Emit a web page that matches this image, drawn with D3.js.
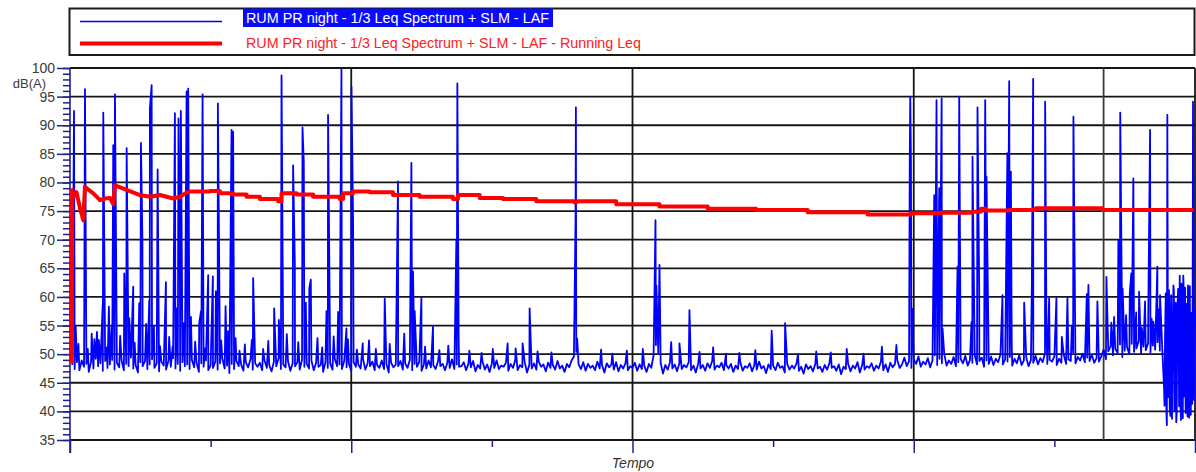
<!DOCTYPE html>
<html>
<head>
<meta charset="utf-8">
<script src="https://cdn.jsdelivr.net/npm/d3@7"></script>
<style>
  body { margin: 0; background: #fff; }
  svg { display: block; }
  text { font-family: "Liberation Sans", Arial, sans-serif; }
</style>
</head>
<body>
<svg id="chart" width="1196" height="472"></svg>
<script>
// ---- data -------------------------------------------------------------
const seriesNames = [
  "RUM PR night - 1/3 Leq Spectrum + SLM - LAF",
  "RUM PR night - 1/3 Leq Spectrum + SLM - LAF - Running Leq"
];

// LAF floor level, one reading per minute (minute 1 .. 480), dB(A)
const floorDb = [
  48.1, 47.4, 48.6, 47.2, 48.9, 47.8, 48.3, 46.9, 48.7, 47.5, 49.2, 47.9, 48.4, 47.1, 48.8, 47.6, 48.2, 49.0, 47.3, 48.5,
  47.7, 48.9, 47.2, 48.3, 47.9, 49.4, 47.5, 48.1, 46.8, 48.6, 47.9, 48.8, 47.4, 48.2, 49.1, 47.6, 48.4, 47.0, 48.7, 48.0,
  47.3, 48.9, 47.8, 49.3, 47.5, 48.3, 47.1, 48.6, 47.9, 48.2, 47.4, 49.0, 47.7, 48.5, 46.9, 48.4, 47.8, 48.9, 47.2, 48.1,
  47.6, 48.7, 47.3, 48.4, 49.2, 47.5, 48.0, 46.7, 48.3, 47.4, 48.8, 47.9, 48.2, 47.1, 48.6, 47.7, 49.1, 47.3, 48.4, 47.8,
  48.5, 47.2, 48.9, 47.6, 48.1, 47.0, 48.7, 47.9, 49.3, 47.4, 48.2, 47.7, 48.8, 47.1, 48.4, 47.9, 48.6, 47.3, 49.0, 47.8,
  48.3, 47.5, 48.9, 47.2, 48.5, 47.8, 48.1, 46.9, 48.6, 47.6, 48.4, 47.3, 49.1, 47.9, 48.2, 47.4, 48.8, 47.7, 48.3, 47.1,
  48.6, 47.8, 48.2, 47.5, 49.2, 47.3, 48.4, 47.9, 48.7, 47.2, 48.1, 47.6, 48.9, 47.4, 48.3, 46.8, 48.5, 47.7, 48.2, 47.9,
  48.8, 47.3, 48.4, 47.6, 49.0, 47.2, 48.3, 47.8, 48.6, 47.1, 48.2, 47.5, 48.9, 47.7, 48.1, 47.4, 48.7, 47.9, 48.3, 47.2,
  48.5, 47.6, 49.1, 47.4, 48.2, 47.8, 47.9, 48.6, 47.2, 48.3, 47.7, 48.8, 47.0, 48.1, 47.5, 48.7, 47.3, 48.2, 46.9, 48.4,
  47.6, 48.9, 47.4, 48.0, 47.8, 48.5, 47.1, 48.3, 47.6, 49.0, 47.2, 48.1, 47.7, 48.6, 46.8, 48.2, 47.5, 48.4, 47.3, 48.7,
  47.8, 48.2, 47.0, 48.5, 47.6, 48.1, 47.3, 48.8, 47.5, 48.0, 46.9, 48.3, 47.7, 48.9, 49.6, 50.4, 48.2, 47.4, 48.6, 47.1,
  48.3, 47.6, 48.0, 47.2, 48.7, 47.5, 48.1, 46.8, 48.4, 47.7, 48.2, 47.3, 48.6, 47.0, 48.1, 47.5, 48.4, 47.2, 47.9, 47.6,
  48.5, 47.1, 48.2, 47.4, 48.0, 46.9, 48.3, 47.6, 49.8, 51.6, 50.2, 48.5, 46.6, 48.1, 47.3, 48.6, 47.5, 48.2, 47.0, 48.4,
  47.4, 48.1, 47.7, 48.6, 47.2, 48.0, 46.8, 48.3, 47.5, 48.1, 47.1, 48.4, 47.6, 48.8, 47.3, 48.0, 47.7, 48.5, 47.2, 48.1,
  47.5, 48.3, 46.9, 48.0, 47.4, 48.6, 47.1, 47.9, 47.6, 48.4, 47.0, 48.1, 47.3, 48.7, 47.5, 47.9, 46.7, 48.2, 47.4, 48.0,
  47.2, 48.5, 47.6, 47.9, 46.8, 48.3, 47.3, 48.0, 47.5, 48.4, 47.1, 47.8, 46.6, 48.2, 47.4, 47.9, 47.0, 48.3, 47.5, 47.8,
  46.9, 48.1, 47.3, 48.4, 47.6, 47.9, 47.1, 48.2, 46.5, 47.8, 47.4, 48.3, 47.0, 48.0, 47.5, 48.6, 46.8, 48.1, 47.3, 47.9,
  47.6, 48.4, 47.1, 48.0, 47.5, 48.7, 47.2, 48.2, 46.9, 48.5, 47.7, 48.3, 48.9, 47.6, 48.2, 49.4, 47.9, 48.8, 47.6, 49.1,
  48.3, 49.6, 47.8, 48.7, 48.2, 49.3, 47.7, 48.9, 49.8, 48.1, 49.2, 48.4, 50.1, 48.0, 48.9, 48.3, 49.5, 47.9, 48.6, 49.2,
  48.4, 49.7, 48.0, 49.0, 48.5, 49.9, 48.2, 48.8, 49.4, 47.8, 48.9, 48.3, 49.6, 48.1, 49.2, 48.6, 50.0, 48.2, 49.1, 48.7,
  49.5, 48.0, 49.2, 48.4, 49.8, 48.1, 48.9, 49.4, 47.9, 49.0, 48.5, 49.7, 48.2, 49.3, 48.6, 50.2, 48.3, 49.0, 48.7, 49.6,
  48.1, 49.2, 48.5, 49.9, 48.3, 49.1, 48.8, 50.3, 48.4, 49.5, 48.9, 50.1, 48.6, 49.4, 48.8, 49.9, 48.5, 49.3, 48.7, 49.6,
  50.8, 49.1, 50.5, 51.4, 49.8, 50.9, 50.2, 51.7, 49.5, 50.6, 51.2, 50.0, 51.8, 50.4, 51.0, 52.3, 50.1, 51.3, 50.7, 51.9,
  50.3, 51.5, 50.8, 52.1, 50.6, 51.2, 41.0, 37.6, 58.2, 40.8, 61.0, 38.1, 60.6, 38.5, 63.7, 39.7, 62.0, 40.2, 60.6, 55.0
];

// Short noise events between the minute readings: [minute, dB(A)]
const events = [
  [1.71, 92.5], [2.43, 54.8], [3.6, 51.8], [6.39, 96.3], [7.6, 50.9], [9.25, 53.6], [10.4, 52.6],
  [11.5, 53.9], [12.3, 52.5], [13.94, 58.6], [14.2, 92.2], [15.6, 51.2], [16.6, 58.3], [17.8, 55.0],
  [18.46, 86.5], [19.18, 95.4], [21.4, 53.2], [23.15, 64.1], [24.17, 86.0], [25.28, 56.3], [26.98, 61.8],
  [27.6, 52.0], [29.54, 58.9], [30.27, 86.9], [30.9, 70.0], [32.5, 55.3], [33.81, 59.4], [34.1, 93.0],
  [34.83, 97.0], [35.81, 54.8], [37.39, 82.3], [38.4, 51.4], [40.92, 62.6], [42.3, 53.0], [43.78, 51.3],
  [44.76, 92.1], [45.6, 58.0], [46.3, 91.2], [46.9, 64.0], [47.3, 92.5], [48.6, 55.4], [49.75, 95.9],
  [50.43, 96.4], [51.6, 56.5], [53.4, 52.2], [55.12, 55.4], [55.9, 57.5], [56.57, 95.4], [57.7, 51.0],
  [58.96, 63.8], [60.96, 63.6], [62.24, 61.0], [63.09, 93.8], [64.5, 52.4], [66.37, 58.4], [67.48, 54.0],
  [68.93, 89.2], [69.6, 88.9], [69.9, 60.0], [70.64, 52.8], [72.3, 50.6], [74.6, 51.7], [77.6, 52.5],
  [78.14, 63.3], [82.4, 50.9], [84.6, 52.3], [87.1, 58.0], [89.1, 56.0], [90.25, 98.7], [92.5, 53.5],
  [95.19, 83.0], [95.92, 66.0], [97.4, 52.1], [99.2, 89.6], [99.75, 83.6], [100.61, 59.0], [102.1, 61.5],
  [102.74, 63.0], [105.6, 52.8], [107.6, 51.2], [109.43, 57.5], [110.11, 91.8], [112.5, 53.1], [114.4, 57.4],
  [115.82, 99.8], [117.96, 54.5], [118.6, 52.6], [120.09, 96.7], [120.77, 73.8], [122.4, 50.8], [124.9, 51.9],
  [127.6, 52.4], [130.5, 50.9], [134.28, 59.7], [136.4, 51.8], [139.95, 80.2], [142.6, 53.6], [145.66, 83.4],
  [146.35, 64.4], [147.07, 57.5], [149.93, 59.8], [151.5, 51.3], [154.87, 54.8], [157.6, 50.7], [161.4, 51.5],
  [164.85, 69.9], [165.27, 97.3], [165.83, 52.5],
  [170.4, 50.6], [175.6, 50.2], [180.4, 50.9], [186.72, 51.9], [190.13, 51.0], [193.11, 51.9], [196.1, 58.0],
  [199.5, 50.5], [205.4, 50.3], [215.7, 73.7], [215.85, 93.1], [216.4, 52.7], [226.6, 50.8], [231.4, 50.1],
  [237.6, 50.6], [244.4, 50.9], [249.38, 60.6], [249.81, 73.4], [250.2, 62.0], [251.51, 65.6], [251.9, 53.0],
  [256.5, 52.1], [260.04, 51.9], [264.3, 57.7], [268.6, 50.4], [274.4, 51.2], [279.9, 50.1], [285.6, 50.2],
  [292.4, 50.7], [299.39, 54.1], [305.1, 55.4], [310.6, 50.0], [318.4, 50.5], [324.6, 50.3], [331.4, 50.9],
  [338.6, 50.1], [346.4, 51.3], [352.6, 51.6],
  [358.3, 84.2], [358.51, 95.0], [358.8, 84.0], [359.3, 58.0], [368.74, 77.8], [369.72, 94.4], [370.87, 79.0],
  [371.9, 94.7], [372.28, 54.5], [378.68, 65.3], [379.4, 95.0], [384.64, 55.6], [385.07, 84.5], [387.2, 93.1],
  [387.93, 60.9], [390.49, 94.4], [391.04, 81.0], [397.86, 60.3], [399.95, 85.1], [400.72, 97.7], [401.44, 81.9],
  [401.8, 52.0], [407.11, 59.0], [410.4, 62.4], [410.95, 98.1], [416.06, 94.1], [416.62, 54.1], [417.77, 59.8],
  [420.88, 59.8], [423.18, 53.0], [425.57, 59.8], [427.45, 55.0], [428.13, 91.5], [433.84, 60.5], [434.52, 62.1],
  [438.36, 59.2],
  [442.2, 63.5], [444.3, 55.5], [445.48, 56.5], [447.31, 69.9], [448.1, 92.2], [449.1, 61.5], [450.6, 56.8],
  [452.17, 60.6], [452.8, 64.1], [453.7, 80.7], [454.9, 57.3], [456.14, 60.9], [457.3, 54.6], [458.69, 59.2],
  [460.1, 58.6], [460.83, 89.2], [461.5, 56.2], [462.24, 55.7], [463.94, 65.3], [464.6, 57.8], [465.09, 60.3],
  [466.8, 44.0], [467.2, 52.5], [467.52, 60.6], [467.8, 39.8], [468.2, 91.8], [468.4, 57.4], [468.6, 42.5],
  [468.9, 61.2], [469.2, 40.5], [469.5, 39.2], [469.8, 60.3], [470.2, 38.7], [470.5, 55.4], [470.8, 62.0],
  [471.2, 40.2], [471.4, 43.0], [471.8, 59.0], [472.2, 39.6], [472.5, 57.8], [472.8, 61.4], [473.2, 40.9],
  [473.49, 63.7], [473.8, 41.4], [474.2, 62.3], [474.5, 59.5], [474.8, 38.8], [475.2, 60.9], [475.5, 42.6],
  [475.8, 61.6], [476.2, 40.4], [476.5, 58.8], [476.8, 39.1], [477.15, 60.6], [477.5, 38.9], [477.8, 61.9],
  [478.2, 39.4], [478.5, 57.2], [478.8, 41.3], [479.15, 94.1], [479.4, 60.4], [479.6, 42.0], [479.8, 58.0]
];

// Running Leq: [minute, dB(A)]; the early settling part is read point by point,
// from minute 50 on the value moves in small held steps
const leqMin = [
  0.72, 0.94, 1.71, 2.77, 4.26, 5.67, 6.39, 7.03, 9.93, 12.79, 14.92, 17.05, 18.46, 19.18, 24.17,
  29.84, 34.10, 38.37, 44.04, 46.89, 50.43, 55.42, 59.68, 63.94, 69.61, 75.33, 81.00, 88.80, 90.25,
  96.64, 103.72, 115.10, 116.51, 120.77, 127.89, 137.82, 149.20, 163.40, 165.53, 174.78, 184.71,
  198.95, 215.28, 216.13, 233.06, 251.51, 272.10, 292.74, 314.73, 340.31, 358.81, 370.87, 385.07,
  388.65, 390.78, 400.72, 412.10, 437.68, 440.50, 479.50
];
const leqDb = [
  48.4, 78.7, 77.6, 78.3, 75.5, 73.4, 79.3, 79.0, 78.1, 76.9, 77.2, 77.3, 76.2, 79.5, 78.7,
  77.8, 77.5, 77.8, 77.2, 77.5, 78.4, 78.4, 78.5, 78.1, 77.9, 77.5, 77.1, 76.7, 78.1,
  77.9, 77.5, 77.1, 78.1, 78.4, 78.3, 77.8, 77.5, 77.1, 77.8, 77.3, 77.1,
  76.7, 76.5, 76.7, 76.2, 75.8, 75.4, 75.2, 74.8, 74.4, 74.6, 74.7, 74.9,
  75.4, 75.1, 75.2, 75.5, 75.5, 75.2, 75.2
];
const leqStepFrom = 50.43;

// Axes
const dbTicks = [35, 40, 45, 50, 55, 60, 65, 70, 75, 80, 85, 90, 95, 100];
const timeMajor = [0, 120, 240, 360, 480];
const timeMinor = [60, 180, 300, 420];
const markerMin = [441];
const yUnit = "dB(A)";
const xTitle = "Tempo";

// ---- drawing ----------------------------------------------------------
(function draw() {
  const svg = d3.select("#chart");
  const plotL = 70, plotR = 1195, plotT = 68, plotB = 440;
  const x = d3.scaleLinear().domain([0, 480]).range([plotL, plotR]);
  const y = d3.scaleLinear().domain([35, 100]).range([plotB, plotT]);
  const axisBlue = "#20208c";

  // legend
  const lg = svg.append("g");
  lg.append("rect").attr("x", 69.5).attr("y", 8.5).attr("width", 1125).attr("height", 46.5)
    .attr("fill", "#fff").attr("stroke", "#1a1a1a").attr("stroke-width", 2);
  lg.append("line").attr("x1", 80).attr("x2", 222).attr("y1", 21.5).attr("y2", 21.5)
    .attr("stroke", "#0000ff").attr("stroke-width", 1.5);
  lg.append("line").attr("x1", 80).attr("x2", 222).attr("y1", 43.5).attr("y2", 43.5)
    .attr("stroke", "#ff0000").attr("stroke-width", 4);
  lg.append("rect").attr("x", 243).attr("y", 8.5).attr("width", 310).attr("height", 18.5)
    .attr("fill", "#0a0aff");
  lg.append("text").attr("x", 246).attr("y", 22.5).attr("font-size", 14)
    .attr("fill", "#fff").attr("textLength", 303).attr("lengthAdjust", "spacingAndGlyphs")
    .text(seriesNames[0]);
  lg.append("text").attr("x", 246).attr("y", 47.5).attr("font-size", 14)
    .attr("fill", "#ff2020").attr("textLength", 395).attr("lengthAdjust", "spacingAndGlyphs")
    .text(seriesNames[1]);

  // horizontal grid
  svg.append("g").selectAll("line").data(dbTicks).join("line")
    .attr("x1", plotL).attr("x2", plotR)
    .attr("y1", d => y(d)).attr("y2", d => y(d))
    .attr("stroke", "#151515").attr("stroke-width", 1.8);

  // vertical grid
  svg.append("g").selectAll("line").data(timeMajor.slice(1).concat(markerMin)).join("line")
    .attr("x1", d => x(d)).attr("x2", d => x(d))
    .attr("y1", plotT).attr("y2", plotB)
    .attr("stroke", d => markerMin.includes(d) ? "#3a3a3a" : "#151515")
    .attr("stroke-width", 1.8);

  // y axis
  const yMinor = svg.append("g").attr("transform", `translate(${plotL},0)`)
    .call(d3.axisLeft(y).tickValues(d3.range(35, 101)).tickSize(7).tickFormat(""));
  const yMajor = svg.append("g").attr("transform", `translate(${plotL},0)`)
    .call(d3.axisLeft(y).tickValues(dbTicks).tickSize(13).tickPadding(2));
  [yMinor, yMajor].forEach(g => {
    g.select(".domain").remove();
    g.selectAll("line").attr("stroke", axisBlue).attr("stroke-width", 1.5);
  });
  yMajor.selectAll("text").attr("font-size", 14).attr("fill", "#3a3a3a")
    .attr("font-family", "'Liberation Sans', Arial, sans-serif");
  svg.append("line").attr("x1", plotL).attr("x2", plotL).attr("y1", plotT).attr("y2", 453)
    .attr("stroke", axisBlue).attr("stroke-width", 1.6);
  svg.append("text").attr("x", 46).attr("y", 88).attr("text-anchor", "end")
    .attr("font-size", 13).attr("fill", "#3a3a3a").text(yUnit);

  // x axis ticks
  const xMaj = svg.append("g").attr("transform", `translate(0,${plotB})`)
    .call(d3.axisBottom(x).tickValues(timeMajor).tickSize(13).tickFormat(""));
  const xMin = svg.append("g").attr("transform", `translate(0,${plotB})`)
    .call(d3.axisBottom(x).tickValues(timeMinor).tickSize(7).tickFormat(""));
  [xMaj, xMin].forEach(g => {
    g.select(".domain").remove();
    g.selectAll("line").attr("stroke", axisBlue).attr("stroke-width", 1.5);
  });
  svg.append("text").attr("x", 633).attr("y", 468).attr("text-anchor", "middle")
    .attr("font-size", 14).attr("font-style", "italic").attr("fill", "#333").text(xTitle);

  // LAF trace
  const laf = floorDb.map((v, i) => ({ t: i + 1, v }))
    .concat(events.map(([t, v]) => ({ t, v })))
    .sort((a, b) => a.t - b.t);
  svg.append("path").datum(laf)
    .attr("fill", "none").attr("stroke", "#0000ff").attr("stroke-width", 1.8)
    .attr("stroke-linejoin", "round")
    .attr("d", d3.line().x(d => x(d.t)).y(d => y(d.v)));

  // running Leq: settling part joined point to point, the rest as held steps
  const leq = leqMin.map((t, i) => ({ t, v: leqDb[i] }));
  const settle = leq.filter(d => d.t <= leqStepFrom);
  const held = leq.filter(d => d.t >= leqStepFrom);
  const leqStyle = p => p.attr("fill", "none").attr("stroke", "#ff0000")
    .attr("stroke-width", 4).attr("stroke-linejoin", "round");
  svg.append("path").datum(settle).call(leqStyle)
    .attr("d", d3.line().x(d => x(d.t)).y(d => y(d.v)));
  svg.append("path").datum(held).call(leqStyle)
    .attr("d", d3.line().curve(d3.curveStepAfter).x(d => x(d.t)).y(d => y(d.v)));
})();
</script>
</body>
</html>
